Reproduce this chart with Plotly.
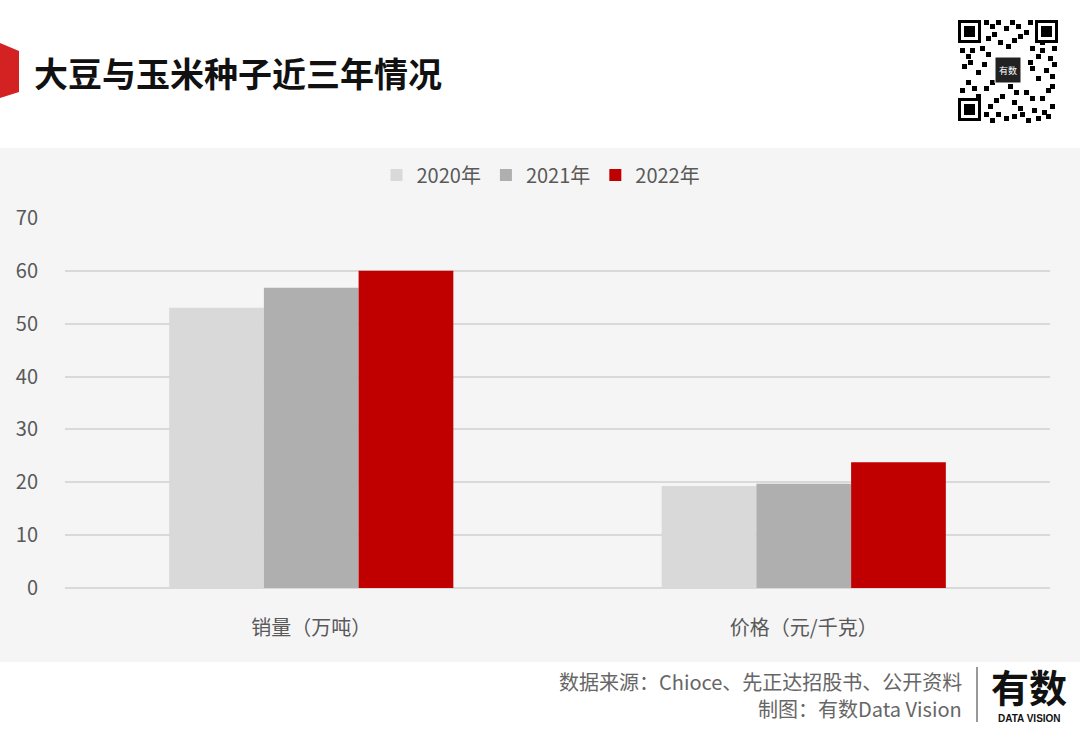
import plotly.graph_objects as go

categories = ["销量（万吨）", "价格（元/千克）"]
series_names = ["2020年", "2021年", "2022年"]
values_2020 = [53.0, 19.3]
values_2021 = [56.8, 19.7]
values_2022 = [60.0, 23.8]
y_ticks = [0, 10, 20, 30, 40, 50, 60, 70]

colors = ["#d9d9d9", "#afafaf", "#c00000"]
FONT = "Noto Sans CJK SC"

W, H = 1080, 742
L, R, T, B = 65, 30, 218, 154
PW = W - L - R
PH = H - T - B


def px(x):
    return (x - L) / PW


def py(y):
    return (H - B - y) / PH


fig = go.Figure()
for name, vals, c in zip(series_names, [values_2020, values_2021, values_2022], colors):
    fig.add_trace(go.Bar(x=categories, y=vals, name=name, marker=dict(color=c, line=dict(width=0))))

shapes = []
# grey panel
shapes.append(dict(type="rect", xref="paper", yref="paper", x0=px(0), x1=px(W), y0=py(148), y1=py(662),
                   fillcolor="#f5f5f5", line=dict(width=0), layer="below"))
# red marker at title
shapes.append(dict(type="path", xref="paper", yref="paper",
                   path=f"M {px(0)},{py(43)} L {px(19)},{py(51)} L {px(19)},{py(92)} L {px(0)},{py(98)} Z",
                   fillcolor="#d42222", line=dict(width=0)))
# footer separator
shapes.append(dict(type="line", xref="paper", yref="paper", x0=px(977), x1=px(977), y0=py(667), y1=py(722),
                   line=dict(color="#333333", width=1)))
# QR-like decoration: finder patterns
for (fx, fy) in [(958, 20), (1035, 20), (958, 98)]:
    s = 23
    shapes.append(dict(type="rect", xref="paper", yref="paper", x0=px(fx), x1=px(fx + s), y0=py(fy + s), y1=py(fy),
                       fillcolor="#000000", line=dict(width=0)))
    shapes.append(dict(type="rect", xref="paper", yref="paper", x0=px(fx + 3), x1=px(fx + s - 3), y0=py(fy + s - 3), y1=py(fy + 3),
                       fillcolor="#ffffff", line=dict(width=0)))
    shapes.append(dict(type="rect", xref="paper", yref="paper", x0=px(fx + 6), x1=px(fx + s - 6), y0=py(fy + s - 6), y1=py(fy + 6),
                       fillcolor="#000000", line=dict(width=0)))
# QR modules (decorative)
mods = [(984, 20), (990, 24), (996, 20), (1004, 26), (1010, 20), (1016, 24), (1024, 30), (1028, 20),
        (986, 36), (992, 32), (998, 40), (1012, 38), (1018, 34), (1006, 44),
        (960, 48), (966, 54), (970, 48), (980, 46), (986, 52), (1040, 48), (1048, 56), (1052, 46),
        (1030, 46), (1036, 54), (962, 64), (968, 60), (976, 70), (982, 62), (1044, 68), (1050, 74),
        (1036, 76), (1030, 66), (966, 80), (960, 88), (972, 86), (984, 86), (990, 80), (1000, 94),
        (994, 98), (1012, 100), (1018, 106), (1024, 90), (1030, 96), (1040, 96), (1046, 88),
        (1050, 104), (1042, 110), (988, 104), (984, 112), (996, 112), (1004, 116), (1020, 112),
        (1026, 118), (1032, 108), (1046, 114), (1008, 84), (1014, 90), (1028, 60), (1052, 62),
        (1040, 40), (1050, 84), (976, 94), (990, 118), (1012, 114), (1036, 116)]
for (mx, my) in mods:
    shapes.append(dict(type="rect", xref="paper", yref="paper", x0=px(mx), x1=px(mx + 5), y0=py(my + 5), y1=py(my),
                       fillcolor="#000000", line=dict(width=0)))
shapes.append(dict(type="rect", xref="paper", yref="paper", x0=px(995), x1=px(1021), y0=py(83), y1=py(57),
                   fillcolor="#222222", line=dict(color="#ffffff", width=1)))

annotations = [
    dict(text="<b>大豆与玉米种子近三年情况</b>", xref="paper", yref="paper", x=px(32), y=py(72), xanchor="left", yanchor="middle",
         showarrow=False, font=dict(family=FONT, size=34, color="#111111")),
    dict(text="有数", xref="paper", yref="paper", x=px(1008), y=py(70), xanchor="center", yanchor="middle",
         showarrow=False, font=dict(family=FONT, size=9, color="#ffffff")),
    dict(text="数据来源：Chioce、先正达招股书、公开资料", xref="paper", yref="paper", x=px(964), y=py(681),
         xanchor="right", yanchor="middle", showarrow=False, font=dict(family=FONT, size=20, color="#666666")),
    dict(text="制图：有数Data Vision", xref="paper", yref="paper", x=px(964), y=py(708),
         xanchor="right", yanchor="middle", showarrow=False, font=dict(family=FONT, size=20, color="#666666")),
    dict(text="<b>有数</b>", xref="paper", yref="paper", x=px(1029), y=py(685),
         xanchor="center", yanchor="middle", showarrow=False, font=dict(family=FONT, size=38, color="#111111")),
    dict(text="<b>DATA VISION</b>", xref="paper", yref="paper", x=px(1029), y=py(718),
         xanchor="center", yanchor="middle", showarrow=False, font=dict(family="Liberation Sans", size=10, color="#111111")),
]

fig.update_layout(
    width=W, height=H,
    margin=dict(l=L, r=R, t=T, b=B, autoexpand=False),
    paper_bgcolor="#ffffff",
    plot_bgcolor="#f5f5f5",
    barmode="group",
    bargap=0.423,
    bargroupgap=0,
    font=dict(family=FONT, size=20, color="#595959"),
    legend=dict(orientation="h", x=px(541), xanchor="center", y=py(175), yanchor="middle",
                font=dict(family=FONT, size=20, color="#595959"), bgcolor="rgba(0,0,0,0)",
                traceorder="normal"),
    shapes=shapes,
    annotations=annotations,
    showlegend=True,
)
fig.update_yaxes(range=[0, 70], tickvals=y_ticks, showgrid=True, gridcolor="#d9d9d9", gridwidth=1.5,
                 zeroline=True, zerolinecolor="#d9d9d9", zerolinewidth=1.5, showline=False,
                 ticks="outside", ticklen=22, tickcolor="rgba(0,0,0,0)",
                 tickfont=dict(family=FONT, size=20, color="#595959"))
fig.update_xaxes(showgrid=False, showline=False, ticks="outside", ticklen=22, tickcolor="rgba(0,0,0,0)",
                 tickfont=dict(family=FONT, size=20, color="#595959"))

fig.write_html("out.html", config={"displayModeBar": False},
               post_script="document.body.style.margin='0';document.body.style.overflow='hidden';")
